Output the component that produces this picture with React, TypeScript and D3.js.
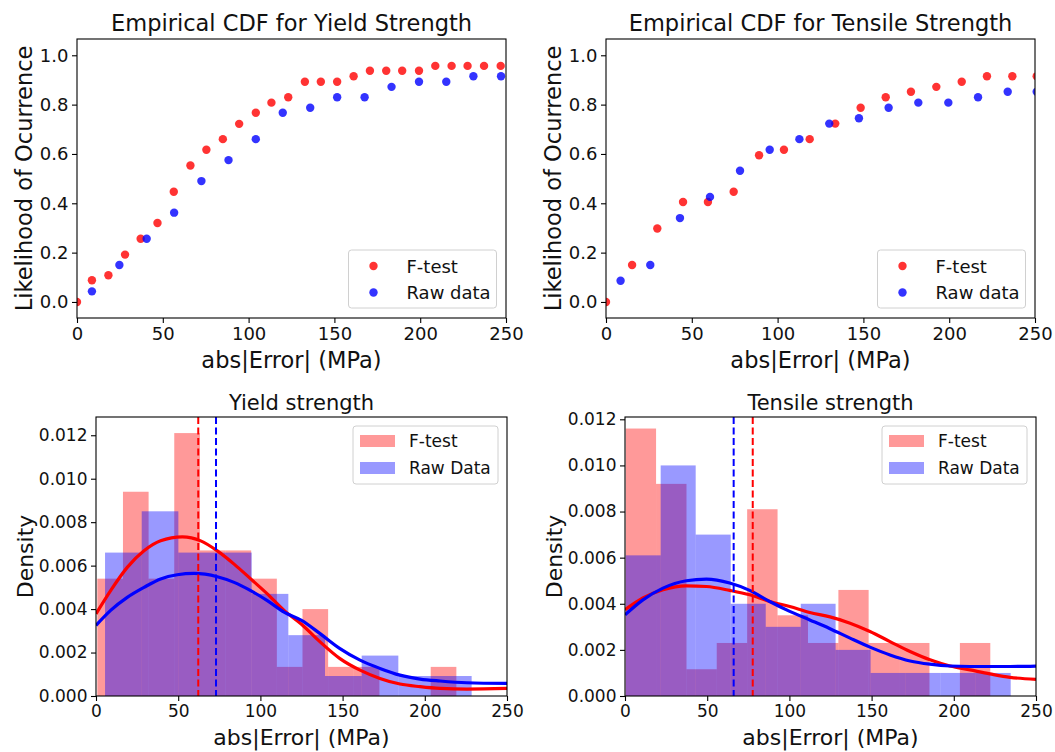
import React, { useEffect, useRef } from 'react';
import * as d3 from 'd3';

const WIDTH = 1055;
const HEIGHT = 752;
const FONT = "'DejaVu Sans', sans-serif";

const xTicks = [0, 50, 100, 150, 200, 250];
const cdfTicks = [0, 0.2, 0.4, 0.6, 0.8, 1.0];
const densityTicks = [0, 0.002, 0.004, 0.006, 0.008, 0.01, 0.012];

// empirical CDF, yield strength  [abs error, likelihood]
const yieldCdfFtest = [
  [0, 0], [8.7, 0.088], [18.3, 0.108], [28.0, 0.192], [37.1, 0.256], [46.9, 0.32],
  [56.4, 0.447], [66.1, 0.553], [75.4, 0.617], [85.0, 0.66], [94.5, 0.722], [104.2, 0.767],
  [113.3, 0.808], [123.1, 0.83], [132.8, 0.893], [142.1, 0.893], [151.6, 0.893], [161.2, 0.915],
  [170.7, 0.937], [180.2, 0.937], [189.5, 0.937], [199.3, 0.937], [208.8, 0.957], [218.3, 0.957],
  [227.6, 0.957], [237.2, 0.957], [246.9, 0.957]
];
const yieldCdfRaw = [
  [8.7, 0.043], [24.7, 0.15], [40.6, 0.256], [56.6, 0.362], [72.5, 0.49], [88.3, 0.575],
  [104.2, 0.66], [119.9, 0.767], [135.9, 0.787], [151.6, 0.83], [167.6, 0.83], [183.3, 0.872],
  [199.3, 0.893], [215.2, 0.893], [231.0, 0.915], [247.1, 0.915]
];

// empirical CDF, tensile strength
const tensileCdfFtest = [
  [0, 0], [15.2, 0.15], [29.9, 0.298], [44.9, 0.405], [59.4, 0.405], [74.4, 0.447],
  [89.2, 0.595], [103.7, 0.617], [118.7, 0.66], [133.6, 0.723], [148.4, 0.787], [163.0, 0.83],
  [177.7, 0.852], [192.5, 0.872], [207.3, 0.893], [222.0, 0.915], [236.8, 0.915], [251.0, 0.915]
];
const tensileCdfRaw = [
  [8.5, 0.086], [25.8, 0.15], [43.1, 0.34], [60.6, 0.426], [78.1, 0.532], [95.4, 0.617],
  [112.7, 0.66], [130.1, 0.723], [147.4, 0.745], [164.7, 0.787], [182.0, 0.808], [199.5, 0.808],
  [216.8, 0.83], [234.1, 0.852], [251.0, 0.852]
];

// histograms: bin edges and densities
const yieldFtestEdges = [0.8, 16.4, 32.0, 47.6, 63.2, 78.8, 94.4, 110.0, 125.6, 141.2, 156.8, 172.4, 188.0, 203.6, 219.2];
const yieldFtestDensity = [0.0054, 0.0094, 0.0054, 0.0121, 0.0067, 0.0067, 0.0054, 0.00134, 0.0040, 0.00134, 0.00134, 0, 0, 0.00134];
const yieldRawEdges = [5.5, 27.8, 50.1, 72.4, 94.7, 117.0, 139.3, 161.6, 183.9, 206.2, 228.5];
const yieldRawDensity = [0.0066, 0.0085, 0.0066, 0.0066, 0.0047, 0.0028, 0.00092, 0.00186, 0.00092, 0.00092];

const tensileFtestEdges = [0.4, 18.9, 37.4, 55.8, 74.3, 92.8, 111.3, 129.8, 148.2, 166.7, 185.2, 203.7, 222.2];
const tensileFtestDensity = [0.0116, 0.0092, 0.00116, 0.0023, 0.0081, 0.0035, 0.0023, 0.0046, 0.0023, 0.0023, 0, 0.0023];
const tensileRawEdges = [0.4, 21.7, 43.0, 64.3, 85.6, 106.9, 128.1, 149.4, 170.7, 192.0, 213.3, 234.6];
const tensileRawDensity = [0.0061, 0.0100, 0.0070, 0.0040, 0.0030, 0.0040, 0.0020, 0.0010, 0.0010, 0.0010, 0.0010];

// fitted density curves
const yieldFtestCurve = [
  [0, 0.00378], [8.9, 0.00485], [19, 0.00592], [29.2, 0.00668], [39.3, 0.00714], [52.5, 0.00732],
  [63.7, 0.00714], [73.8, 0.00668], [84, 0.00607], [94.1, 0.00539], [104.2, 0.0047], [114.4, 0.00394],
  [125, 0.0033], [136.3, 0.00249], [148.4, 0.00172], [160.6, 0.00119], [172.7, 0.00081], [184.9, 0.00055],
  [197.1, 0.00043], [209.3, 0.00035], [225.5, 0.00032], [250, 0.00035]
];
const yieldRawCurve = [
  [0, 0.00325], [8.9, 0.00394], [19, 0.00454], [29.2, 0.005], [39.3, 0.00539], [49.4, 0.00558],
  [59.6, 0.00564], [73.8, 0.00549], [84, 0.00523], [94.1, 0.00485], [104.2, 0.00439], [114.4, 0.00386],
  [125, 0.00348], [136.3, 0.00287], [148.4, 0.00218], [160.6, 0.00165], [172.7, 0.00127], [184.9, 0.00096],
  [197.1, 0.00078], [209.3, 0.00069], [225.5, 0.00061], [250, 0.00058]
];
const tensileFtestCurve = [
  [0, 0.00374], [10.9, 0.00425], [23.1, 0.00461], [37.3, 0.00478], [49.5, 0.00475], [63.7, 0.00458],
  [75.8, 0.00439], [88, 0.0041], [100.2, 0.00388], [112.4, 0.00362], [124.7, 0.00343], [136.9, 0.00316],
  [149, 0.0028], [161.2, 0.00236], [173.4, 0.00193], [185.5, 0.00157], [197.7, 0.0013], [209.9, 0.00113],
  [222, 0.00096], [234.2, 0.00081], [250, 0.00072]
];
const tensileRawCurve = [
  [0, 0.00352], [10.9, 0.00417], [23.1, 0.00468], [37.3, 0.005], [49.5, 0.00507], [63.7, 0.0049],
  [75.8, 0.00458], [88, 0.0041], [100.2, 0.00367], [112.4, 0.0033], [124.7, 0.00292], [136.9, 0.00251],
  [149, 0.00212], [161.2, 0.00178], [173.4, 0.00152], [185.5, 0.00138], [197.7, 0.0013], [209.9, 0.00128],
  [234.2, 0.00128], [250, 0.0013]
];

// mean lines
const yieldMeans = { ftest: 62.2, raw: 73.0 };
const tensileMeans = { ftest: 77.7, raw: 66.1 };

const RED = '#ff0000';
const BLUE = '#0000ff';

type Box = { left: number; right: number; top: number; bottom: number };

function drawAxes (g, x, y, box: Box, yTicks, yFmt, fs) {
  const xa = g.append('g')
    .attr('transform', `translate(0,${box.bottom})`)
    .call(d3.axisBottom(x).tickValues(xTicks).tickFormat(d3.format('d'))
      .tickSize(5).tickSizeOuter(0).tickPadding(4));
  const ya = g.append('g')
    .attr('transform', `translate(${box.left},0)`)
    .call(d3.axisLeft(y).tickValues(yTicks).tickFormat(d3.format(yFmt))
      .tickSize(5).tickSizeOuter(0).tickPadding(3.5));
  [xa, ya].forEach(a => {
    a.select('.domain').remove();
    a.attr('font-family', FONT).attr('font-size', fs);
    a.selectAll('line').attr('stroke', '#000').attr('stroke-width', 1.1);
    a.selectAll('text').attr('fill', '#111');
  });
  g.append('rect')
    .attr('x', box.left).attr('y', box.top)
    .attr('width', box.right - box.left).attr('height', box.bottom - box.top)
    .attr('fill', 'none').attr('stroke', '#000').attr('stroke-width', 1.1);
}

function drawLabels (g, box: Box, title, xLabel, yLabel, o) {
  const cx = (box.left + box.right) / 2;
  const cy = (box.top + box.bottom) / 2;
  g.append('text').attr('x', cx).attr('y', box.top + o.titleDy)
    .attr('text-anchor', 'middle').attr('font-family', FONT).attr('font-size', o.titleFs)
    .attr('fill', '#111').text(title);
  g.append('text').attr('x', cx).attr('y', box.bottom + o.xLabelDy)
    .attr('text-anchor', 'middle').attr('font-family', FONT).attr('font-size', o.labelFs)
    .attr('fill', '#111').text(xLabel);
  g.append('text')
    .attr('transform', `translate(${box.left - o.yLabelDx},${cy}) rotate(-90)`)
    .attr('text-anchor', 'middle').attr('font-family', FONT).attr('font-size', o.labelFs)
    .attr('fill', '#111').text(yLabel);
}

function drawLegendBox (g, lx, ly, w, h) {
  g.append('rect').attr('x', lx).attr('y', ly).attr('width', w).attr('height', h)
    .attr('rx', 3).attr('fill', '#fff').attr('fill-opacity', 0.8)
    .attr('stroke', '#d0d0d0').attr('stroke-width', 1);
}

function drawCdf (root, box: Box, id, title, ftest, raw) {
  const g = root.append('g');
  const x = d3.scaleLinear().domain([0, 250]).range([box.left, box.right]);
  const y = d3.scaleLinear().domain([-0.065, 1.066]).range([box.bottom, box.top]);

  g.append('clipPath').attr('id', id).append('rect')
    .attr('x', box.left).attr('y', box.top)
    .attr('width', box.right - box.left).attr('height', box.bottom - box.top);
  const plot = g.append('g').attr('clip-path', `url(#${id})`);

  [[ftest, RED], [raw, BLUE]].forEach(([data, color]) => {
    plot.append('g').selectAll('circle')
      .data(data)
      .enter()
      .append('circle')
      .attr('cx', d => x(d[0]))
      .attr('cy', d => y(d[1]))
      .attr('r', 4.2)
      .attr('fill', color)
      .attr('fill-opacity', 0.8);
  });

  drawAxes(g, x, y, box, cdfTicks, '.1f', 18);
  drawLabels(g, box, title, 'abs|Error| (MPa)', 'Likelihood of Ocurrence',
    { titleDy: -8, titleFs: 22.5, labelFs: 22.5, xLabelDy: 50, yLabelDx: 45 });

  // legend
  const lw = 148, lh = 58;
  const lx = box.right - 9.5 - lw, ly = box.bottom - 10 - lh;
  drawLegendBox(g, lx, ly, lw, lh);
  [['F-test', RED], ['Raw data', BLUE]].forEach(([name, color], i) => {
    const yy = ly + 16 + i * 26.5;
    g.append('circle').attr('cx', lx + 25).attr('cy', yy).attr('r', 4.2)
      .attr('fill', color).attr('fill-opacity', 0.8);
    g.append('text').attr('x', lx + 58).attr('y', yy + 6.5)
      .attr('font-family', FONT).attr('font-size', 18).attr('fill', '#111').text(name);
  });
}

function drawHist (root, box: Box, id, title, yMax, series, means) {
  const g = root.append('g');
  const x = d3.scaleLinear().domain([0, 250]).range([box.left, box.right]);
  const y = d3.scaleLinear().domain([0, yMax]).range([box.bottom, box.top]);

  g.append('clipPath').attr('id', id).append('rect')
    .attr('x', box.left).attr('y', box.top)
    .attr('width', box.right - box.left).attr('height', box.bottom - box.top);
  const plot = g.append('g').attr('clip-path', `url(#${id})`);

  series.forEach(s => {
    const bins = s.density.map((d, i) => ({ x0: s.edges[i], x1: s.edges[i + 1], d }));
    plot.append('g').selectAll('rect')
      .data(bins)
      .enter()
      .append('rect')
      .attr('x', b => x(b.x0))
      .attr('y', b => y(b.d))
      .attr('width', b => x(b.x1) - x(b.x0))
      .attr('height', b => y(0) - y(b.d))
      .attr('fill', s.color)
      .attr('fill-opacity', 0.4);
  });

  const line = d3.line()
    .x(d => x(d[0]))
    .y(d => y(d[1]))
    .curve(d3.curveMonotoneX);
  series.forEach(s => {
    plot.append('path').attr('d', line(s.curve))
      .attr('fill', 'none').attr('stroke', s.color).attr('stroke-width', 3.2);
  });
  series.forEach(s => {
    plot.append('line')
      .attr('x1', x(means[s.key])).attr('x2', x(means[s.key]))
      .attr('y1', box.top).attr('y2', box.bottom)
      .attr('stroke', s.color).attr('stroke-width', 2).attr('stroke-dasharray', '7,3.5');
  });

  drawAxes(g, x, y, box, densityTicks, '.3f', 17);
  drawLabels(g, box, title, 'abs|Error| (MPa)', 'Density',
    { titleDy: -7, titleFs: 21, labelFs: 22, xLabelDy: 49, yLabelDx: 63 });

  const lw = 145, lh = 58;
  const lx = box.right - 9 - lw, ly = box.top + 9;
  drawLegendBox(g, lx, ly, lw, lh);
  series.forEach((s, i) => {
    const yy = ly + 15 + i * 27;
    g.append('rect').attr('x', lx + 7).attr('y', yy - 6).attr('width', 35).attr('height', 12)
      .attr('fill', s.color).attr('fill-opacity', 0.4);
    g.append('text').attr('x', lx + 56).attr('y', yy + 6)
      .attr('font-family', FONT).attr('font-size', 17).attr('fill', '#111').text(s.name);
  });
}

function Chart () {
  const ref = useRef(null);

  useEffect(() => {
    const root = d3.select(ref.current);
    root.selectAll('*').remove();

    drawCdf(root, { left: 77, right: 506, top: 39, bottom: 318 }, 'clip-tl',
      'Empirical CDF for Yield Strength', yieldCdfFtest, yieldCdfRaw);
    drawCdf(root, { left: 606, right: 1035, top: 39, bottom: 318 }, 'clip-tr',
      'Empirical CDF for Tensile Strength', tensileCdfFtest, tensileCdfRaw);

    drawHist(root, { left: 96, right: 507, top: 417, bottom: 696 }, 'clip-bl',
      'Yield strength', 0.01284, [
        { key: 'ftest', name: 'F-test', color: RED, edges: yieldFtestEdges, density: yieldFtestDensity, curve: yieldFtestCurve },
        { key: 'raw', name: 'Raw Data', color: BLUE, edges: yieldRawEdges, density: yieldRawDensity, curve: yieldRawCurve }
      ], yieldMeans);
    drawHist(root, { left: 625, right: 1036, top: 417, bottom: 696 }, 'clip-br',
      'Tensile strength', 0.0121, [
        { key: 'ftest', name: 'F-test', color: RED, edges: tensileFtestEdges, density: tensileFtestDensity, curve: tensileFtestCurve },
        { key: 'raw', name: 'Raw Data', color: BLUE, edges: tensileRawEdges, density: tensileRawDensity, curve: tensileRawCurve }
      ], tensileMeans);
  }, []);

  return <g ref={ref} />;
}

export default function App () {
  return (
    <div style={{ position: 'absolute', left: 0, top: 0 }}>
      <svg width={WIDTH} height={HEIGHT} style={{ display: 'block', background: '#fff' }}>
        <Chart />
      </svg>
    </div>
  );
}
